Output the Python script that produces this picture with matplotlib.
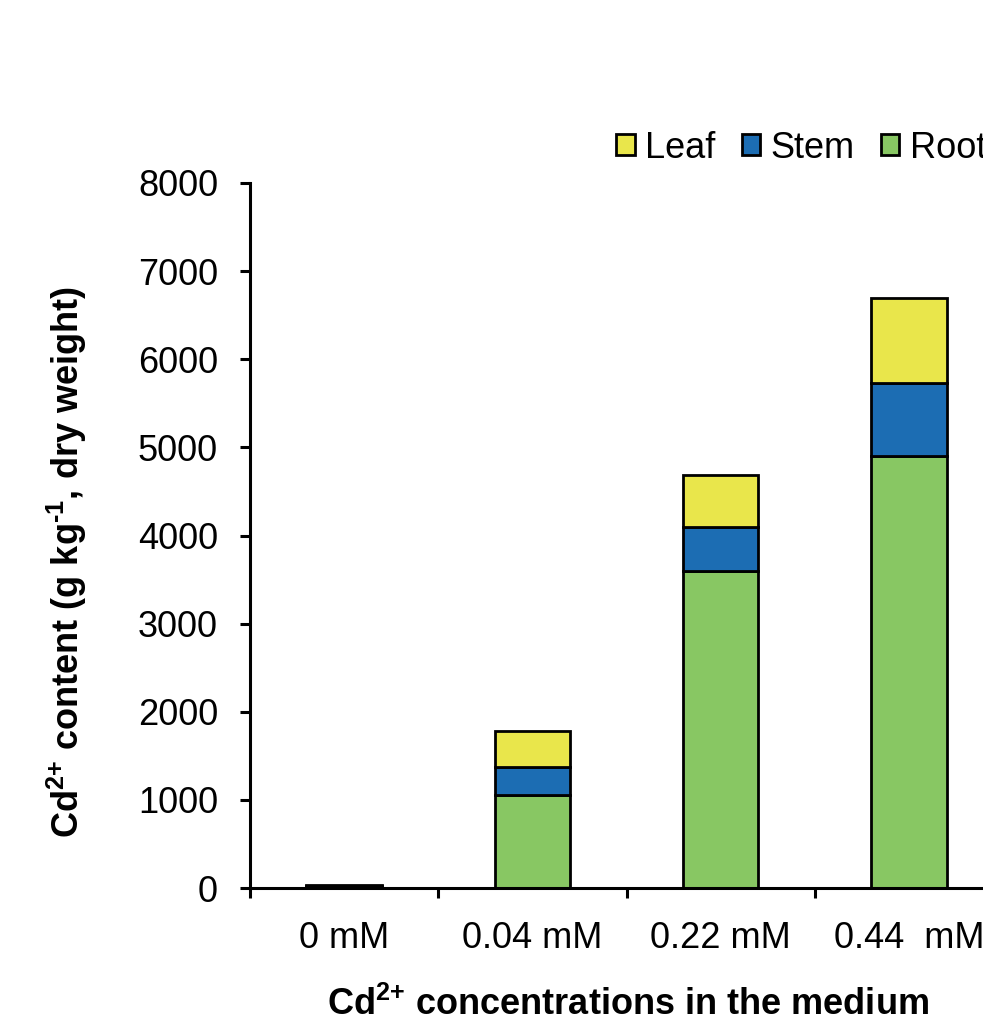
import matplotlib
matplotlib.use("Agg")
import matplotlib.pyplot as plt
from matplotlib.patches import Patch
import numpy as np

plt.rcParams['font.family'] = ['Liberation Sans', 'DejaVu Sans']
plt.rcParams['mathtext.fontset'] = 'custom'
plt.rcParams['mathtext.rm'] = 'Liberation Sans'
plt.rcParams['mathtext.bf'] = 'Liberation Sans:bold'
plt.rcParams['mathtext.default'] = 'bf'

categories = ["0 mM", "0.04 mM", "0.22 mM", "0.44  mM"]
root = [20, 1050, 3600, 4900]
stem = [5, 320, 500, 830]
leaf = [5, 410, 590, 970]

colors = {"Leaf": "#E9E64B", "Stem": "#1C6DB3", "Root": "#88C763"}

fig = plt.figure(figsize=(9.83, 10.26), dpi=100)
W, H = 983, 1026
ax = fig.add_axes([250 / W, 1 - 888 / H, (1003 - 250) / W, (888 - 183) / H])

x = np.arange(len(categories))
w = 0.4
ax.bar(x, root, w, color=colors["Root"], edgecolor="black", linewidth=2)
ax.bar(x, stem, w, bottom=root, color=colors["Stem"], edgecolor="black", linewidth=2)
bot2 = [r + s for r, s in zip(root, stem)]
ax.bar(x, leaf, w, bottom=bot2, color=colors["Leaf"], edgecolor="black", linewidth=2)

ax.set_xlim(-0.5, 3.5)
ax.set_ylim(0, 8000)
ax.set_yticks(range(0, 8001, 1000))
ax.tick_params(axis="y", labelsize=26, direction="out", length=7, width=2.2, pad=16)
ax.set_xticks(x)
ax.set_xticklabels(categories)
ax.tick_params(axis="x", which="major", length=0, labelsize=26, pad=24)
ax.set_xticks(np.arange(-0.5, 3.6, 1.0), minor=True)
ax.tick_params(axis="x", which="minor", direction="out", length=7, width=2.2)

for s in ["top", "right"]:
    ax.spines[s].set_visible(False)
for s in ["left", "bottom"]:
    ax.spines[s].set_linewidth(2.2)

fig.text(67 / W, 1 - 562 / H, r"Cd$^{2{+}}$ content (g kg$^{\u2010 1}$, dry weight)".replace("\\u2010 ", "\u2010"),
         fontsize=26, fontweight="bold", rotation=90, ha="center", va="center")
fig.text(628 / W, 1 - 1005 / H, r"Cd$^{2{+}}$ concentrations in the medium",
         fontsize=26, fontweight="bold", ha="center", va="center")

handles = [Patch(facecolor=colors[k], edgecolor="black", linewidth=2, label=k)
           for k in ["Leaf", "Stem", "Root"]]
fig.legend(handles=handles, loc="center left", bbox_to_anchor=(602 / W, 1 - 148 / H),
           ncol=3, frameon=False, fontsize=26, handlelength=0.5, handleheight=0.5,
           handletextpad=0.3, columnspacing=0.72, borderaxespad=0)

fig.savefig("out.png", dpi=100)
